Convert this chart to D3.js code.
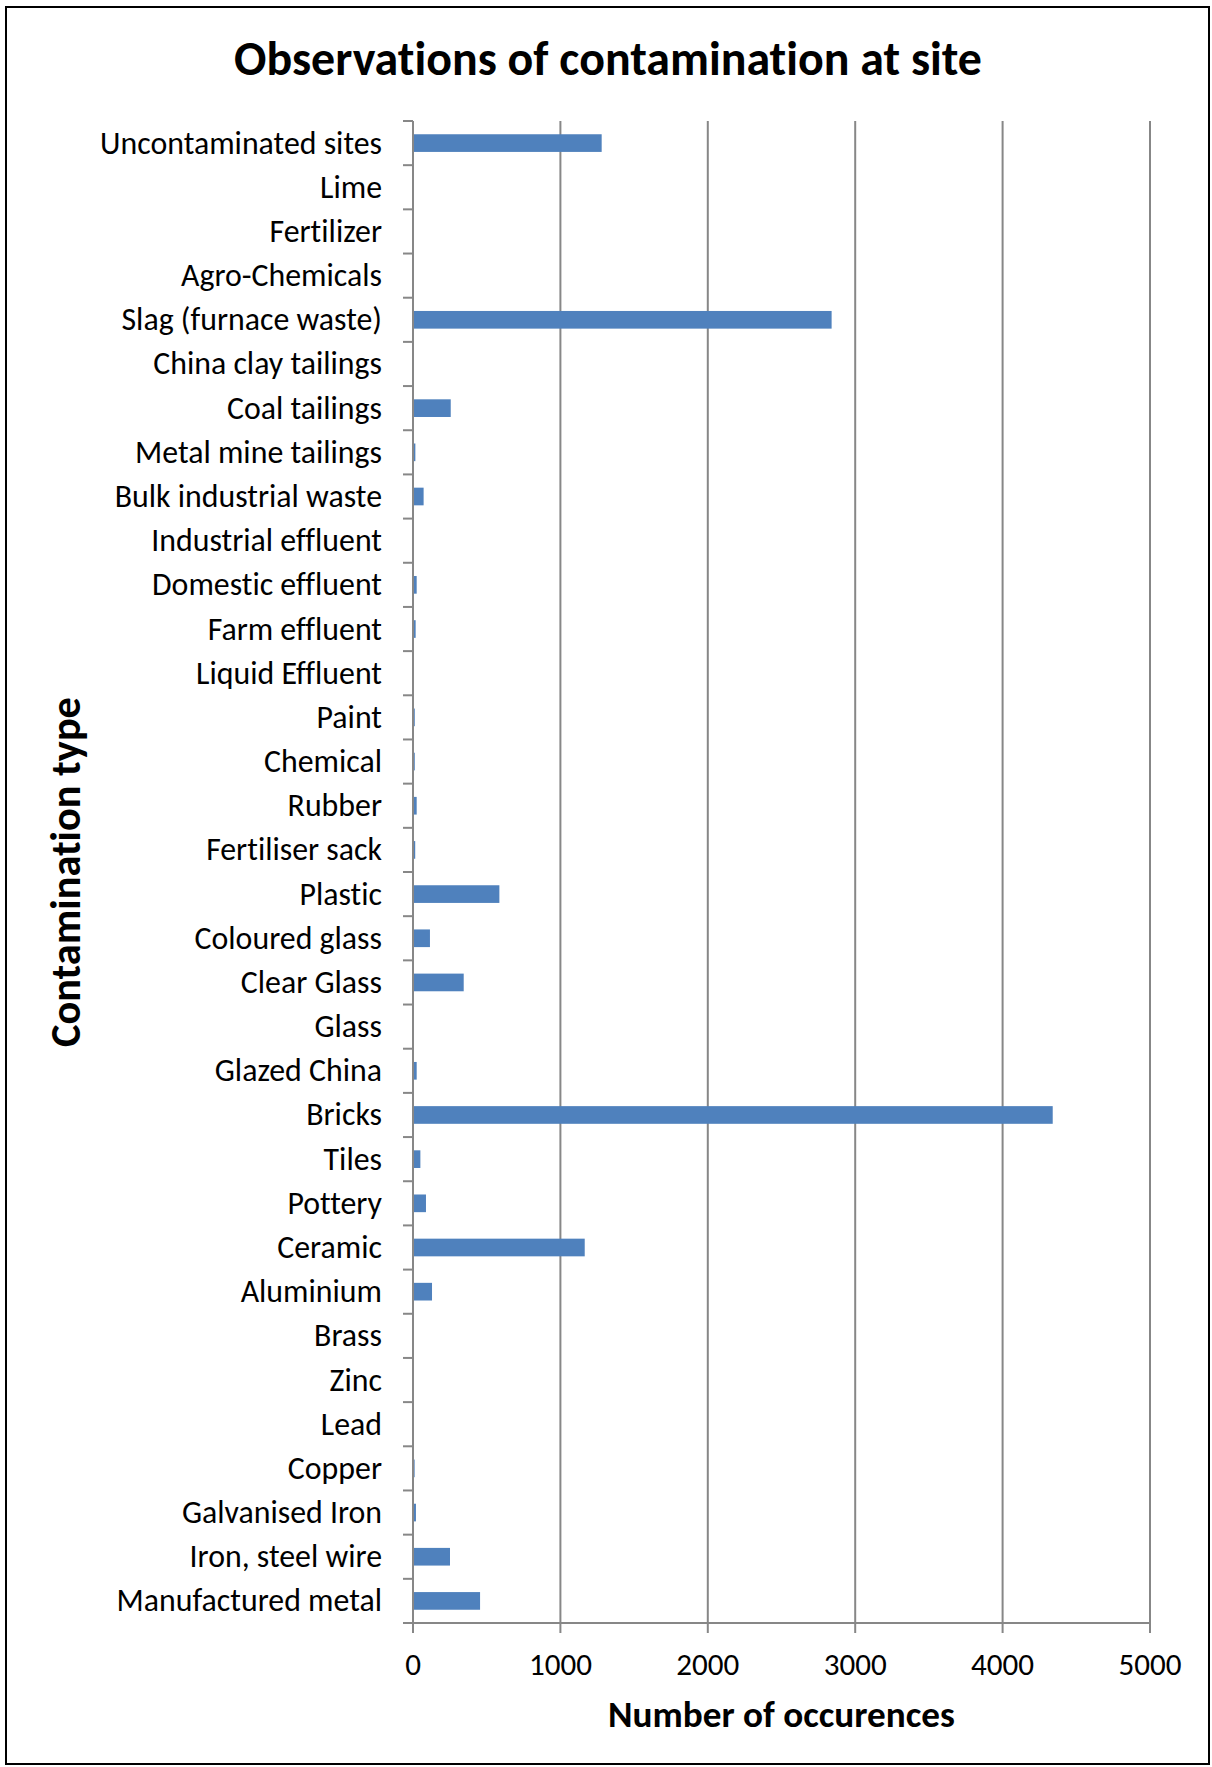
<!DOCTYPE html>
<html>
<head>
<meta charset="utf-8">
<script src="https://cdn.jsdelivr.net/npm/d3@7/dist/d3.min.js"></script>
<style>
  html, body { margin: 0; padding: 0; background: #fff; }
  svg { display: block; }
  text { font-family: Carlito, Calibri, Lato, "Open Sans", sans-serif; fill: #000; font-variant-ligatures: none; font-feature-settings: "liga" 0; }
</style>
</head>
<body>
<svg id="chart" width="1212" height="1767"></svg>
<script>
const categories = [
  "Uncontaminated sites", "Lime", "Fertilizer", "Agro-Chemicals", "Slag (furnace waste)",
  "China clay tailings", "Coal tailings", "Metal mine tailings", "Bulk industrial waste",
  "Industrial effluent", "Domestic effluent", "Farm effluent", "Liquid Effluent", "Paint",
  "Chemical", "Rubber", "Fertiliser sack", "Plastic", "Coloured glass", "Clear Glass",
  "Glass", "Glazed China", "Bricks", "Tiles", "Pottery", "Ceramic", "Aluminium", "Brass",
  "Zinc", "Lead", "Copper", "Galvanised Iron", "Iron, steel wire", "Manufactured metal"
];
const values = [
  1280, 5, 0, 4, 2840,
  0, 256, 16, 72,
  0, 25, 18, 0, 12,
  12, 25, 15, 586, 115, 344,
  3, 25, 4340, 50, 88, 1165, 129, 0,
  0, 0, 11, 20, 251, 455
];
const xTicks = [0, 1000, 2000, 3000, 4000, 5000];
const titleText = "Observations of contamination at site";
const xTitleText = "Number of occurences";
const yTitleText = "Contamination type";

const svg = d3.select("#chart");
const plot = { left: 413, right: 1150, top: 121, bottom: 1623 };
const gridColor = "#878787";
const barColor = "#4F81BD";

// outer border
svg.append("rect").attr("x", 6).attr("y", 7).attr("width", 1203).attr("height", 1757)
  .attr("fill", "#fff").attr("stroke", "#000").attr("stroke-width", 2);

const x = d3.scaleLinear().domain([0, 5000]).range([plot.left, plot.right]);
const y = d3.scaleBand().domain(categories).range([plot.top, plot.bottom])
  .paddingInner(0.6).paddingOuter(0.3);
const yEdges = d3.scaleLinear().domain([0, categories.length]).range([plot.top, plot.bottom]);

function fitSize(sel, target) {
  sel.attr("font-size", 100);
  const w = sel.node().getComputedTextLength();
  const s = 100 * target / w;
  sel.attr("font-size", s);
  return s;
}

// vertical gridlines
svg.append("g").selectAll("line").data(xTicks.slice(1)).join("line")
  .attr("x1", d => x(d)).attr("x2", d => x(d))
  .attr("y1", plot.top).attr("y2", plot.bottom)
  .attr("stroke", gridColor).attr("stroke-width", 2);

// bars
svg.append("g").selectAll("rect").data(categories).join("rect")
  .attr("x", x(0))
  .attr("y", d => y(d))
  .attr("width", (d, i) => x(values[i]) - x(0))
  .attr("height", y.bandwidth())
  .attr("fill", barColor);

// y axis line + ticks
const yAxisG = svg.append("g");
yAxisG.append("line").attr("x1", x(0)).attr("x2", x(0))
  .attr("y1", plot.top).attr("y2", plot.bottom + 10)
  .attr("stroke", gridColor).attr("stroke-width", 2);
yAxisG.selectAll("line.tk").data(d3.range(categories.length + 1)).join("line").attr("class", "tk")
  .attr("x1", x(0) - 10).attr("x2", x(0))
  .attr("y1", d => yEdges(d)).attr("y2", d => yEdges(d))
  .attr("stroke", gridColor).attr("stroke-width", 2);

// x axis line + ticks
const xAxisG = svg.append("g");
xAxisG.append("line").attr("x1", x(0) - 10).attr("x2", plot.right)
  .attr("y1", plot.bottom).attr("y2", plot.bottom)
  .attr("stroke", gridColor).attr("stroke-width", 2);
xAxisG.selectAll("line.tk").data(xTicks).join("line").attr("class", "tk")
  .attr("x1", d => x(d)).attr("x2", d => x(d))
  .attr("y1", plot.bottom).attr("y2", plot.bottom + 10)
  .attr("stroke", gridColor).attr("stroke-width", 2);

// category labels
const probe = svg.append("text").text(categories[0]);
const catSize = fitSize(probe, 282);
probe.remove();
svg.append("g").selectAll("text").data(categories).join("text")
  .attr("x", 382)
  .attr("y", d => y(d) + y.bandwidth() / 2 + 10.5)
  .attr("text-anchor", "end")
  .attr("font-size", catSize)
  .text(d => d);

// x tick labels
const probe2 = svg.append("text").text("1000");
const tickSize = fitSize(probe2, 63);
probe2.remove();
svg.append("g").selectAll("text").data(xTicks).join("text")
  .attr("x", d => x(d))
  .attr("y", 1675)
  .attr("text-anchor", "middle")
  .attr("font-size", tickSize)
  .text(d => d);

// title
const t = svg.append("text").attr("x", 608).attr("y", 75)
  .attr("text-anchor", "middle").attr("font-weight", "bold").text(titleText);
fitSize(t, 748);

// x title
const xt = svg.append("text").attr("x", (plot.left + plot.right) / 2).attr("y", 1727)
  .attr("text-anchor", "middle").attr("font-weight", "bold").text(xTitleText);
fitSize(xt, 347);

// y title
const yt = svg.append("text")
  .attr("transform", `translate(80, ${(plot.top + plot.bottom) / 2}) rotate(-90)`)
  .attr("text-anchor", "middle").attr("font-weight", "bold").text(yTitleText);
fitSize(yt, 350);
</script>
</body>
</html>
